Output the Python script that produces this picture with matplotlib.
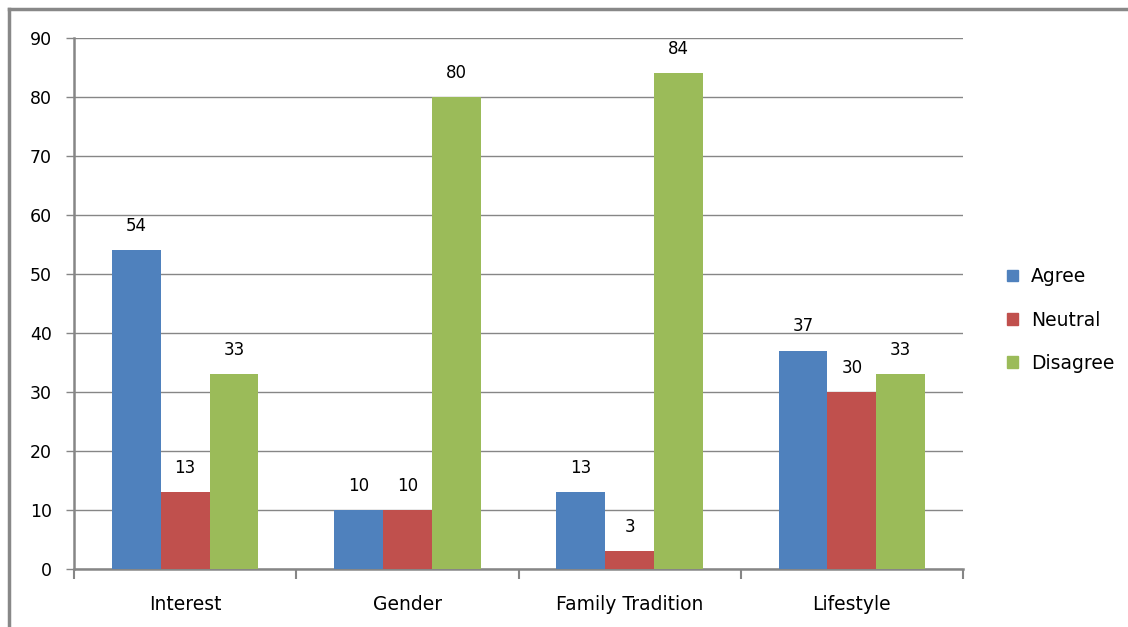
import numpy as np
import matplotlib.pyplot as plt
from matplotlib.lines import Line2D
from matplotlib.patches import Patch

categories = ["Interest", "Gender", "Family Tradition", "Lifestyle"]
series_names = ["Agree", "Neutral", "Disagree"]
agree = [54, 10, 13, 37]
neutral = [13, 10, 3, 30]
disagree = [33, 80, 84, 33]
colors = ["#4F81BD", "#C0504D", "#9BBB59"]

plt.rcParams['font.family'] = ['DejaVu Sans']
fig = plt.figure(figsize=(11.28, 6.27), dpi=100)
ax = fig.add_axes([74 / 1128, 1 - 569 / 627, (963 - 74) / 1128, (569 - 38) / 627])

x = np.arange(len(categories))
width = 0.22
gray = "#868686"

for i, (vals, c) in enumerate(zip([agree, neutral, disagree], colors)):
    pos = x + (i - 1) * width
    bars = ax.bar(pos, vals, width, color=c, zorder=3)
    for b, v in zip(bars, vals):
        ax.annotate(str(v), (b.get_x() + b.get_width() / 2, v),
                    xytext=(0, 11), textcoords="offset points",
                    ha="center", va="bottom", fontsize=12)

ax.set_xlim(-0.5, 3.5)
ax.set_ylim(0, 90)
ax.set_yticks(range(0, 91, 10))
ax.yaxis.grid(True, color=gray, linewidth=1.0, zorder=0)
ax.set_xticks(x)
ax.set_xticklabels(categories)
ax.set_xticks(np.arange(-0.5, 4, 1), minor=True)
ax.tick_params(axis="x", which="major", length=0, pad=19, labelsize=13.5)
ax.tick_params(axis="x", which="minor", length=7, width=1.5, color=gray, direction="out")
ax.tick_params(axis="y", length=6, width=1.0, color=gray, pad=10, labelsize=12.5)

for s in ["top", "right"]:
    ax.spines[s].set_visible(False)
for s in ["left", "bottom"]:
    ax.spines[s].set_color(gray)
    ax.spines[s].set_linewidth(1.8)

handles = [Patch(color=c) for c in colors]
fig.legend(handles, series_names, loc="center left",
           bbox_to_anchor=(990 / 1128, 1 - 320 / 627), frameon=False,
           fontsize=13.5, handlelength=0.6, handleheight=0.6,
           labelspacing=1.3, handletextpad=0.7)

fig.add_artist(Line2D([9 / 1128, 1], [1 - 9 / 627, 1 - 9 / 627], color="#888888", linewidth=2.5))
fig.add_artist(Line2D([9 / 1128, 9 / 1128], [0, 1 - 9 / 627], color="#888888", linewidth=2.5))

fig.savefig("out.png", dpi=100)
